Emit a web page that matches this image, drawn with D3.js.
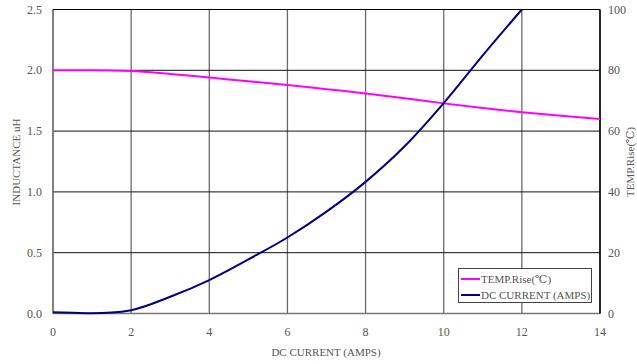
<!DOCTYPE html>
<html>
<head>
<meta charset="utf-8">
<script src="https://cdn.jsdelivr.net/npm/d3@7/dist/d3.min.js"></script>
<style>
  html, body { margin: 0; padding: 0; background: #fff; }
  svg { display: block; }
  svg text { font-family: "Liberation Serif", "DejaVu Serif", serif; fill: #555; }
</style>
</head>
<body>
<svg id="chart" width="637" height="364" font-family="Liberation Serif, DejaVu Serif, serif"></svg>
<script>
// DC current (A) sample points
const current = [0, 1, 2, 3, 4, 5, 6, 7, 8, 9, 10, 11, 12, 13, 14];
// Inductance (uH) vs current, left axis
const inductance = [2.0, 2.0, 1.995, 1.97, 1.94, 1.91, 1.88, 1.845, 1.81, 1.77, 1.728, 1.69, 1.655, 1.626, 1.60];
// Temperature rise (°C) vs current, right axis
const tempCurrent = [0, 0.5, 1, 1.5, 2, 3, 4, 5, 6, 7, 8, 9, 10, 11, 12];
const tempRise = [0.4, 0.25, 0.1, 0.3, 1.1, 5.5, 11, 17.8, 25, 33.5, 43.3, 55, 69.2, 84.9, 100];

const xTicks = [0, 2, 4, 6, 8, 10, 12, 14];
const yLeftTicks = [0, 0.5, 1.0, 1.5, 2.0, 2.5];
const yRightTicks = [0, 20, 40, 60, 80, 100];

const legendLabels = ["TEMP.Rise(\u2103)", "DC CURRENT (AMPS)"];
const legendColors = ["#ff00ff", "#000080"];

const svg = d3.select("#chart");
const m = { left: 53, right: 600, top: 9.5, bottom: 313.5 };

const x = d3.scaleLinear().domain([0, 14]).range([m.left, m.right]);
const yL = d3.scaleLinear().domain([0, 2.5]).range([m.bottom, m.top]);
const yR = d3.scaleLinear().domain([0, 100]).range([m.bottom, m.top]);

// vertical grid (gray)
svg.append("g").selectAll("line").data(xTicks).join("line")
  .attr("x1", d => x(d)).attr("x2", d => x(d))
  .attr("y1", m.top).attr("y2", m.bottom)
  .attr("stroke", "#6a6a6a").attr("stroke-width", 1.3);

// horizontal grid (black)
svg.append("g").selectAll("line").data(yLeftTicks).join("line")
  .attr("x1", m.left).attr("x2", m.right)
  .attr("y1", d => yL(d)).attr("y2", d => yL(d))
  .attr("stroke", "#111").attr("stroke-width", 1);

// frame
svg.append("line").attr("x1", m.left).attr("x2", m.left).attr("y1", m.top).attr("y2", m.bottom)
  .attr("stroke", "#777").attr("stroke-width", 1.5);
svg.append("line").attr("x1", m.left).attr("x2", m.right).attr("y1", m.bottom).attr("y2", m.bottom)
  .attr("stroke", "#777").attr("stroke-width", 1.5);
svg.append("line").attr("x1", m.right).attr("x2", m.right).attr("y1", m.top).attr("y2", m.bottom)
  .attr("stroke", "#000").attr("stroke-width", 1.5);
svg.append("line").attr("x1", m.left).attr("x2", m.right).attr("y1", m.top).attr("y2", m.top)
  .attr("stroke", "#000").attr("stroke-width", 1.2);

// tick labels
svg.append("g").selectAll("text").data(xTicks).join("text")
  .attr("x", d => x(d)).attr("y", 336)
  .attr("text-anchor", "middle").attr("font-size", 12)
  .text(d => d);
svg.append("g").selectAll("text").data(yLeftTicks).join("text")
  .attr("x", 42).attr("y", d => yL(d) + 4)
  .attr("text-anchor", "end").attr("font-size", 12)
  .text(d => d3.format(".1f")(d));
svg.append("g").selectAll("text").data(yRightTicks).join("text")
  .attr("x", 608).attr("y", d => yR(d) + 4)
  .attr("text-anchor", "start").attr("font-size", 12)
  .text(d => d);

// axis titles
svg.append("text").attr("x", 326).attr("y", 356).attr("text-anchor", "middle")
  .attr("font-size", 11).text("DC CURRENT (AMPS)");
svg.append("text").attr("transform", "translate(20,162) rotate(-90)").attr("text-anchor", "middle")
  .attr("font-size", 11).text("INDUCTANCE uH");
svg.append("text").attr("transform", "translate(634,162) rotate(-90)").attr("text-anchor", "middle")
  .attr("font-size", 11).text("TEMP.Rise(\u2103)");

// series
const lineL = d3.line().x((d, i) => x(current[i])).y(d => yL(d)).curve(d3.curveMonotoneX);
svg.append("path").attr("d", lineL(inductance))
  .attr("fill", "none").attr("stroke", "#ff00ff").attr("stroke-width", 2);

const lineR = d3.line().x((d, i) => x(tempCurrent[i])).y(d => yR(d)).curve(d3.curveMonotoneX);
svg.append("path").attr("d", lineR(tempRise))
  .attr("fill", "none").attr("stroke", "#000080").attr("stroke-width", 2);

// legend
const lg = svg.append("g");
lg.append("rect").attr("x", 458.5).attr("y", 268.5).attr("width", 133).attr("height", 34)
  .attr("fill", "#fff").attr("stroke", "#444").attr("stroke-width", 1);
legendLabels.forEach((t, i) => {
  const yy = 279 + i * 16;
  lg.append("line").attr("x1", 461).attr("x2", 480).attr("y1", yy).attr("y2", yy)
    .attr("stroke", legendColors[i]).attr("stroke-width", 2);
  lg.append("text").attr("x", 481).attr("y", yy + 4).attr("font-size", 11).text(t);
});
</script>
</body>
</html>
